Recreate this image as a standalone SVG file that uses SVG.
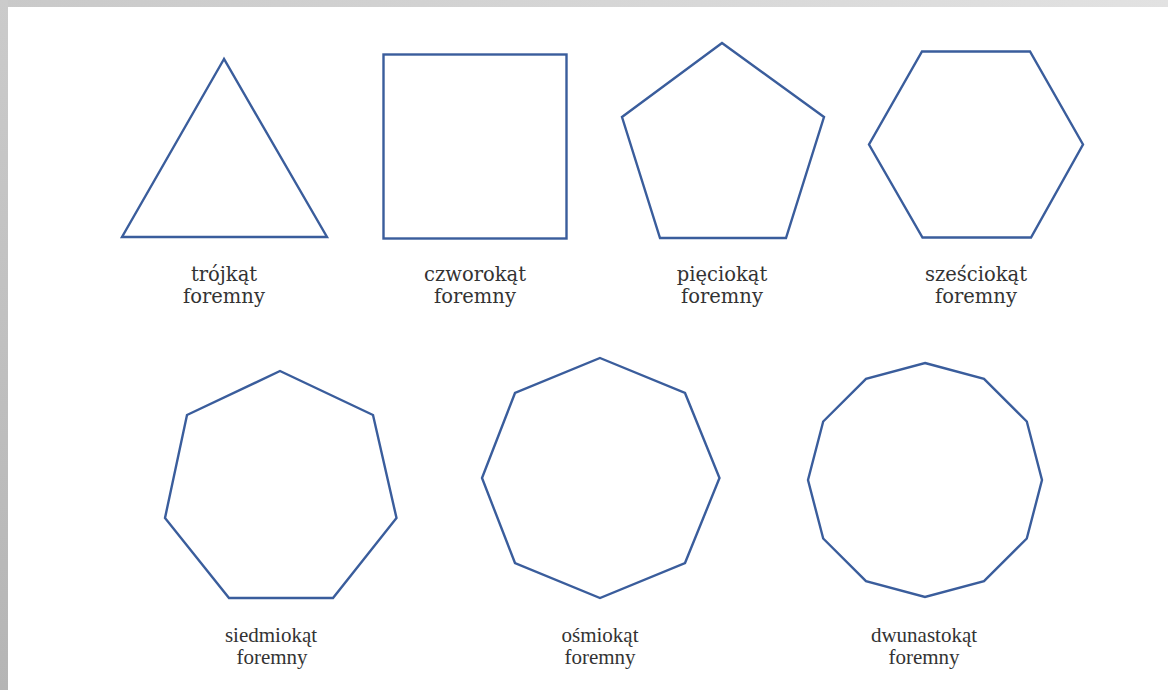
<svg xmlns="http://www.w3.org/2000/svg" width="1168" height="690" viewBox="0 0 1168 690">
<defs>
<linearGradient id="topg" x1="0" y1="0" x2="1" y2="0"><stop offset="0" stop-color="#c9c9c9"/><stop offset="1" stop-color="#e2e2e2"/></linearGradient>
<linearGradient id="leftg" x1="0" y1="0" x2="0" y2="1"><stop offset="0" stop-color="#cbcbcb"/><stop offset="1" stop-color="#b5b5b5"/></linearGradient>
</defs>
<style>
.shape{fill:none;stroke:#3a5d9c;stroke-width:2.4;stroke-linejoin:miter}
.lt{font-family:"DejaVu Serif","Liberation Serif",serif;font-size:19.5px;fill:#333;text-anchor:middle}
.lb{font-family:"Liberation Serif","DejaVu Serif",serif;font-size:21px;fill:#333;text-anchor:middle}
</style>
<rect x="0" y="0" width="1168" height="690" fill="#ffffff"/>
<rect x="0" y="0" width="1168" height="7" fill="url(#topg)"/>
<rect x="0" y="0" width="8" height="690" fill="url(#leftg)"/>
<g id="triangle">
<polygon class="shape" points="224,59 122,237 327,237"/>
<text class="lt" x="224" y="281">trójkąt</text>
<text class="lt" x="224" y="303">foremny</text>
</g>
<g id="square">
<rect class="shape" x="383.5" y="54.5" width="183" height="184"/>
<text class="lt" x="475" y="281">czworokąt</text>
<text class="lt" x="475" y="303">foremny</text>
</g>
<g id="pentagon">
<polygon class="shape" points="722,43 824,117 786,238 660,238 622,117"/>
<text class="lt" x="722" y="281">pięciokąt</text>
<text class="lt" x="722" y="303">foremny</text>
</g>
<g id="hexagon">
<polygon class="shape" points="922,51.5 1030,51.5 1083,144.5 1031,237.5 922.5,237.5 869,144.5"/>
<text class="lt" x="976" y="281">sześciokąt</text>
<text class="lt" x="976" y="303">foremny</text>
</g>
<g id="heptagon">
<polygon class="shape" points="280,371 373,415 396.5,518 333,598 229,598 165,518 187,415"/>
<text class="lb" x="271" y="642">siedmiokąt</text>
<text class="lb" x="272" y="664">foremny</text>
</g>
<g id="octagon">
<polygon class="shape" points="600,358 685,393 719.5,478 685,563 600,598 515,563 482,478 515,393"/>
<text class="lb" x="600" y="642">ośmiokąt</text>
<text class="lb" x="600" y="664">foremny</text>
</g>
<g id="dodecagon">
<polygon class="shape" points="925,363 984,378.8 1026.8,421.5 1042,480 1026.8,538.5 984,581.2 925,597 866,581.2 823.2,538.5 808,480 823.2,421.5 866,378.8"/>
<text class="lb" x="924" y="642">dwunastokąt</text>
<text class="lb" x="924" y="664">foremny</text>
</g>
<g id="connectors"></g>
</svg>
